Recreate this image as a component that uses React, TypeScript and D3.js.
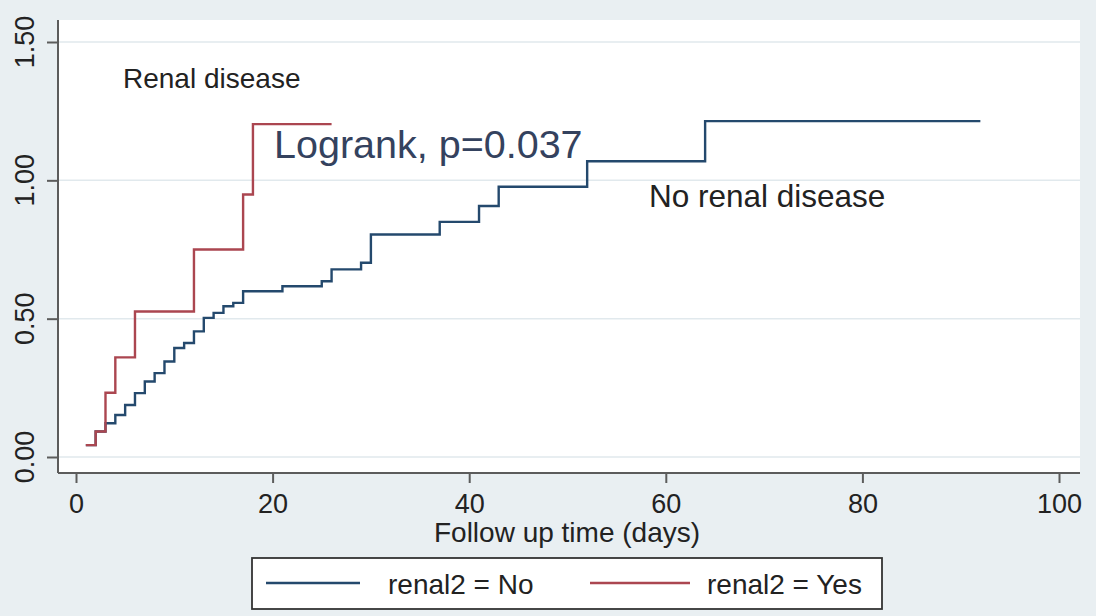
import React, { useEffect, useRef } from "react";
import * as d3 from "d3";

// Nelson-Aalen cumulative hazard
const xTicks = [0, 20, 40, 60, 80, 100];
const yTicks = [0, 0.5, 1, 1.5];
const yTickLabels = ["0.00", "0.50", "1.00", "1.50"];

const noDays = [1, 2, 3, 4, 5, 6, 7, 8, 9, 10, 11, 12, 13, 14, 15, 16, 17, 21, 25, 26, 29, 30, 37, 41, 43, 52, 64, 92];
const noHazard = [
  0.043, 0.092, 0.122, 0.152, 0.188, 0.231, 0.273, 0.303, 0.345, 0.394, 0.412, 0.454, 0.503, 0.521,
  0.545, 0.557, 0.599, 0.617, 0.635, 0.678, 0.702, 0.804, 0.85, 0.907, 0.977, 1.069, 1.214, 1.214,
];

const yesDays = [1, 2, 3, 4, 6, 12, 17, 18, 26];
const yesHazard = [0.043, 0.092, 0.232, 0.36, 0.526, 0.75, 0.949, 1.203, 1.203];

const legendLabels = ["renal2 = No", "renal2 = Yes"];
const seriesColors = ["#24496d", "#ab4650"];

const W = 1096;
const H = 616;
const FONT = "'Liberation Sans', Arial, sans-serif";

export default function App() {
  const svgRef = useRef<SVGSVGElement>(null);

  useEffect(() => {
    const svg = d3.select(svgRef.current);
    svg.selectAll("*").remove();

    const plot = { left: 58, right: 1080, top: 20, bottom: 473 };
    const x = d3.scaleLinear().domain([0, 100]).range([76, 1059]);
    const y = d3.scaleLinear().domain([0, 1.5]).range([457, 42]);

    svg.append("rect").attr("width", W).attr("height", H).attr("fill", "#e9eff2");
    svg
      .append("rect")
      .attr("x", plot.left)
      .attr("y", plot.top)
      .attr("width", plot.right - plot.left)
      .attr("height", plot.bottom - plot.top)
      .attr("fill", "#ffffff");

    // grid
    svg
      .append("g")
      .selectAll("line")
      .data(yTicks)
      .enter()
      .append("line")
      .attr("x1", plot.left)
      .attr("x2", plot.right)
      .attr("y1", (d) => y(d))
      .attr("y2", (d) => y(d))
      .attr("stroke", "#e1e9ed")
      .attr("stroke-width", 1.5);

    // curves
    const line = d3
      .line<[number, number]>()
      .x((d) => x(d[0]))
      .y((d) => y(d[1]))
      .curve(d3.curveStepAfter);

    const series = [
      d3.zip(noDays, noHazard) as [number, number][],
      d3.zip(yesDays, yesHazard) as [number, number][],
    ];
    series.forEach((pts, i) => {
      svg
        .append("path")
        .attr("d", line(pts))
        .attr("fill", "none")
        .attr("stroke", seriesColors[i])
        .attr("stroke-width", 2.4);
    });

    // axes lines
    const axisColor = "#5c5c5c";
    svg
      .append("line")
      .attr("x1", plot.left)
      .attr("x2", plot.right)
      .attr("y1", plot.bottom)
      .attr("y2", plot.bottom)
      .attr("stroke", axisColor)
      .attr("stroke-width", 2);
    svg
      .append("line")
      .attr("x1", plot.left)
      .attr("x2", plot.left)
      .attr("y1", plot.top)
      .attr("y2", plot.bottom)
      .attr("stroke", axisColor)
      .attr("stroke-width", 2);

    const xAxis = svg
      .append("g")
      .attr("transform", `translate(0,${plot.bottom})`)
      .call(d3.axisBottom(x).tickValues(xTicks).tickSize(10).tickPadding(11).tickFormat(d3.format("d")));
    xAxis.select(".domain").remove();
    xAxis.selectAll("line").attr("stroke", axisColor).attr("stroke-width", 2);
    xAxis
      .selectAll("text")
      .attr("font-family", FONT)
      .attr("font-size", 27)
      .attr("fill", "#222");

    const yAxis = svg
      .append("g")
      .attr("transform", `translate(${plot.left},0)`)
      .call(d3.axisLeft(y).tickValues(yTicks).tickSize(11).tickFormat(() => ""));
    yAxis.select(".domain").remove();
    yAxis.selectAll("line").attr("stroke", axisColor).attr("stroke-width", 2);

    svg
      .append("g")
      .selectAll("text")
      .data(yTicks)
      .enter()
      .append("text")
      .attr("transform", (d) => `translate(34,${y(d)}) rotate(-90)`)
      .attr("text-anchor", "middle")
      .attr("font-family", FONT)
      .attr("font-size", 27)
      .attr("fill", "#222")
      .text((_, i) => yTickLabels[i]);

    svg
      .append("text")
      .attr("x", 567)
      .attr("y", 542)
      .attr("text-anchor", "middle")
      .attr("font-family", FONT)
      .attr("font-size", 28)
      .attr("fill", "#222")
      .text("Follow up time (days)");

    // annotations
    svg
      .append("text")
      .attr("x", 123)
      .attr("y", 88)
      .attr("font-family", FONT)
      .attr("font-size", 28)
      .attr("fill", "#222")
      .text("Renal disease");
    svg
      .append("text")
      .attr("x", 274)
      .attr("y", 158)
      .attr("font-family", FONT)
      .attr("font-size", 39.5)
      .attr("fill", "#34425e")
      .text("Logrank, p=0.037");
    svg
      .append("text")
      .attr("x", 649)
      .attr("y", 207)
      .attr("font-family", FONT)
      .attr("font-size", 31.5)
      .attr("fill", "#222")
      .text("No renal disease");

    // legend
    const lg = svg.append("g");
    lg.append("rect")
      .attr("x", 252)
      .attr("y", 558)
      .attr("width", 630)
      .attr("height", 51)
      .attr("fill", "#ffffff")
      .attr("stroke", "#333")
      .attr("stroke-width", 1.8);
    const items = [
      { x1: 266, x2: 360, tx: 388 },
      { x1: 590, x2: 690, tx: 707 },
    ];
    items.forEach((it, i) => {
      lg.append("line")
        .attr("x1", it.x1)
        .attr("x2", it.x2)
        .attr("y1", 583)
        .attr("y2", 583)
        .attr("stroke", seriesColors[i])
        .attr("stroke-width", 2.4);
      lg.append("text")
        .attr("x", it.tx)
        .attr("y", 594)
        .attr("font-family", FONT)
        .attr("font-size", 28)
        .attr("fill", "#222")
        .text(legendLabels[i]);
    });
  }, []);

  return (
    <svg
      ref={svgRef}
      width={W}
      height={H}
      style={{ position: "absolute", left: 0, top: 0, display: "block" }}
    />
  );
}
